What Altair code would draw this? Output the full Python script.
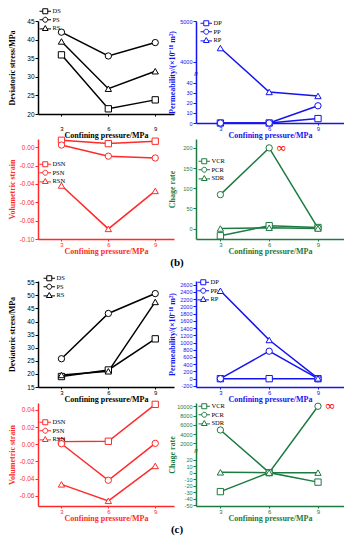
import altair as alt
import pandas as pd

PRESSURE = [3, 6, 9]

# ---- group (b) ----
B_DS = [35.9, 21.4, 23.8]
B_PS = [42.0, 35.6, 39.2]
B_RS = [39.5, 26.8, 31.5]
B_DP = [0.0, 0.0, 4.4]
B_PP = [0.0, 0.0, 17.2]
B_RP = [4340.0, 31.0, 27.0]
B_DSN = [0.0076, 0.0040, 0.0066]
B_PSN = [0.0024, -0.0097, -0.0117]
B_RSN = [-0.0417, -0.0890, -0.0476]
B_VCR = [-18.0, 7.0, 2.5]
B_PCR = [84.0, 200.0, 1.0]
B_SDR = [0.0, 2.0, 0.0]

# ---- group (c) ----
C_DS = [19.0, 21.5, 33.4]
C_PS = [25.8, 43.1, 50.7]
C_RS = [19.6, 21.0, 47.5]
C_DP = [0.0, 0.0, 0.0]
C_PP = [0.0, 760.0, 0.0]
C_RP = [2430.0, 1070.0, 8.0]
C_DSN = [0.0030, 0.0034, 0.0464]
C_PSN = [0.0005, -0.0420, 0.0010]
C_RSN = [-0.0468, -0.0660, -0.0253]
C_VCR = [-29.0, 0.0, -14.5]
C_PCR = [4900.0, 0.0, 10000.0]
C_SDR = [0.5, 0.0, 0.0]

STRESS_NAMES = ["DS", "PS", "RS"]
PERM_NAMES = ["DP", "PP", "RP"]
STRAIN_NAMES = ["DSN", "PSN", "RSN"]
RATE_NAMES = ["VCR", "PCR", "SDR"]

SERIF = "Liberation Serif"
SANS = "Liberation Sans"
BLACK, BLUE, RED, GREEN = "#000000", "#1414f0", "#ff2a2a", "#1d7a40"

MARKERS = ["square", "circle", "triangle-up"]
LEG_SHAPES = [
    "M-2.3,0H-1M1,0H2.3M-1,-1H1V1H-1Z",
    "M-2.3,0H-1M1,0H2.3M-1,0A1,1,0,1,1,1,0A1,1,0,1,1,-1,0Z",
    "M-2.3,0.25H-0.8M0.8,0.25H2.3M0,-1.1L1.15,0.9H-1.15Z",
]

XL = [1.5, 10.2]
XR = [1.5, 10.6]
WL, WR = 136, 148
PERM_TITLE = "Permeability/(\u00d710\u207b\u00b9\u2078 m\u00b2)"
MINUS = "\u2212"


def fmt_expr(f):
    return "replace(format(datum.value,'%s'),'%s','-')" % (f, MINUS)


def panel(names, series, color, ytitle, ydom, yticks, yfmt, xdom, w, h, lx, ly,
          ext=21, ylfs=6.5, xlpad=0, inf=None, brk=None):
    rows = [{"p": p, "v": v, "s": n}
            for n, vals in zip(names, series) for p, v in zip(PRESSURE, vals)]
    df = pd.DataFrame(rows)
    xs = alt.Scale(domain=xdom, nice=False, zero=False)
    yfield = "v"
    calc = None
    label_expr = fmt_expr(yfmt)
    tick_vals = yticks
    if brk is not None:
        # broken axis: lower [d0, lo] -> [0, f1], upper [hi0, hi1] -> [f2, 1]
        d0, lo, hi0, hi1, f1, f2 = brk
        calc = ("datum.v <= %g ? (datum.v - (%g)) / (%g) * %g : %g + (datum.v - %g) / %g * %g"
                % (lo, d0, lo - d0, f1, f2, hi0, hi1 - hi0, 1 - f2))

        def fwd(v):
            return (v - d0) / (lo - d0) * f1 if v <= lo else f2 + (v - hi0) / (hi1 - hi0) * (1 - f2)
        tick_vals = [fwd(v) for v in yticks]
        mid = (f1 + f2) / 2
        label_expr = ("replace(format(round(datum.value <= %g ? %g + datum.value / %g * %g : "
                      "%g + (datum.value - %g) / %g * %g), 'd'), '%s', '-')"
                      % (mid, d0, f1, lo - d0, hi0, f2, 1 - f2, hi1 - hi0, MINUS))
        yfield = "t"
        ydom = [0, 1]
    ys = alt.Scale(domain=ydom, nice=False, zero=False)
    xax = alt.Axis(title="Confining pressure/MPa", values=PRESSURE, format="d",
                   labelFont=SANS, labelFontSize=6, labelColor=color,
                   titleColor=color, titleFont=SERIF, titleFontSize=8,
                   titleFontWeight="bold", domainColor=color, domainWidth=1.5,
                   tickColor=color, tickSize=2, grid=False, tickCount=10,
                   labelPadding=xlpad, titlePadding=0, labelFlush=False)
    yax = alt.Axis(title=ytitle, values=tick_vals, labelExpr=label_expr,
                   labelFont=SANS, labelFontSize=ylfs, labelColor=color,
                   titleColor=color, titleFont=SERIF, titleFontSize=8,
                   titleFontWeight="bold", domainColor=color, domainWidth=1.5,
                   tickColor=color, tickSize=3, grid=False, labelPadding=1,
                   titlePadding=1, minExtent=ext, maxExtent=ext, tickCount=40,
                   labelFlush=False, labelOverlap=False)
    X = alt.X("p:Q", scale=xs, axis=xax)
    Y = alt.Y(yfield + ":Q", scale=ys, axis=yax)
    base = alt.Chart(df)
    if calc:
        base = base.transform_calculate(t=calc)
    line = base.mark_line(color=color, strokeWidth=1.5).encode(x=X, y=Y, detail="s:N")
    pts = base.mark_point(filled=True, fill="white", stroke=color, strokeWidth=1,
                          size=40, opacity=1).encode(
        x=X, y=Y,
        shape=alt.Shape("s:N", scale=alt.Scale(domain=names, range=MARKERS), legend=None))
    leg = base.mark_point(filled=False, stroke=color, strokeWidth=1,
                          size=25, opacity=1, clip=True).encode(
        x=alt.value(-200), y=alt.value(-200),
        shape=alt.Shape("s:N", scale=alt.Scale(domain=names, range=LEG_SHAPES),
                        legend=alt.Legend(orient="none", legendX=lx, legendY=ly, title=None,
                                          direction="vertical", symbolSize=25,
                                          symbolStrokeWidth=1, symbolStrokeColor=color,
                                          symbolOpacity=1, labelFont=SERIF,
                                          labelFontSize=6.5, labelColor="black",
                                          labelOffset=4, rowPadding=-1.5, padding=0)))
    layers = [line, pts, leg]
    if inf is not None:
        idf = pd.DataFrame({"p": [inf[0]], "v": [inf[1]], "lab": ["\u221e"]})
        ic = alt.Chart(idf)
        if calc:
            ic = ic.transform_calculate(t=calc)
        layers.append(ic.mark_text(color="#ff0000", font="DejaVu Sans",
                                   fontSize=13, dx=12, baseline="middle").encode(
            x=alt.X("p:Q", scale=xs), y=alt.Y(yfield + ":Q", scale=ys), text="lab:N"))
    if brk is not None:
        bdf = pd.DataFrame({"p": [xdom[0]], "t": [(brk[4] + brk[5]) / 2], "lab": ["//"]})
        layers.append(alt.Chart(bdf).mark_text(color=color, font=SANS, fontSize=6,
                                               fontWeight="bold", baseline="middle").encode(
            x=alt.X("p:Q", scale=xs), y=alt.Y("t:Q", scale=ys), text="lab:N"))
    ch = alt.layer(*layers).resolve_scale(shape="independent")
    return ch.properties(width=w, height=h)


def spacer(w, label, ypos):
    c = alt.Chart(pd.DataFrame({"t": [label]})).mark_text(
        font=SERIF, fontSize=11, fontWeight="bold", align="center",
        baseline="middle", color="black").encode(
        text="t:N", x=alt.value(-19), y=alt.value(ypos))
    return c.properties(width=w, height=14)


b_tl = panel(STRESS_NAMES, [B_DS, B_PS, B_RS], BLACK, "Deviatoric stress/MPa",
             [20, 45], [20, 25, 30, 35, 40, 45], "d", XL, WL, 93, 4, -13, xlpad=9)
b_tr = panel(PERM_NAMES, [B_DP, B_PP, B_RP], BLUE, PERM_TITLE,
             None, [0, 10, 20, 30, 40, 4000, 5000], "d", XR, WR, 102, 7, -1,
             ext=19, ylfs=5.5, brk=(0, 45, 3800, 5000, 0.442, 0.518))
b_bl = panel(STRAIN_NAMES, [B_DSN, B_PSN, B_RSN], RED, "Volumetric strain",
             [-0.10, 0.009], [-0.10, -0.08, -0.06, -0.04, -0.02, 0.0], ".2f", XL, WL, 100, 4, 22)
b_br = panel(RATE_NAMES, [B_VCR, B_PCR, B_SDR], GREEN, "Chage rate",
             [-26, 222], [0, 50, 100, 150, 200], "d", XR, WR, 100, 5, 19,
             ext=19, ylfs=5.5, inf=(6, 200))

c_tl = panel(STRESS_NAMES, [C_DS, C_PS, C_RS], BLACK, "Deviatoric stress/MPa",
             [15, 55.5], [15, 20, 25, 30, 35, 40, 45, 50, 55], "d", XL, WL, 106, 8, -6)
c_tr = panel(PERM_NAMES, [C_DP, C_PP, C_RP], BLUE, PERM_TITLE,
             [-230, 2700], list(range(-200, 2601, 200)), "d", XR, WR, 106, 4, -2,
             ext=19, ylfs=5.5)
c_bl = panel(STRAIN_NAMES, [C_DSN, C_PSN, C_RSN], RED, "Volumetric strain",
             [-0.072, 0.048], [-0.06, -0.04, -0.02, 0.0, 0.02, 0.04], ".2f", XL, WL, 103, 4, 16)
c_br = panel(RATE_NAMES, [C_VCR, C_PCR, C_SDR], GREEN, "Chage rate",
             None, [-50, -40, -30, -20, -10, 0, 10, 20, 2000, 4000, 6000, 8000, 10000], "d",
             XR, WR, 103, 5, 0, ext=19, ylfs=5.5, inf=(9, 10000),
             brk=(-51, 26, 1200, 10700, 0.489, 0.571))

group_b = alt.concat(
    b_tl, b_tr, b_bl, b_br,
    spacer(WL, "", 8), spacer(WR, "(b)", 8),
    columns=2, spacing={"row": 16, "column": 22}, bounds="flush", align="each",
).resolve_scale(shape="independent")

group_c = alt.concat(
    c_tl, c_tr, c_bl, c_br,
    spacer(WL, "", 8), spacer(WR, "(c)", 8),
    columns=2, spacing={"row": 16, "column": 22}, bounds="flush", align="each",
).resolve_scale(shape="independent")

chart = alt.vconcat(group_b, group_c, spacing=6).resolve_scale(
    shape="independent").properties(padding=0).configure_view(stroke=None)

chart.save("out.html", embed_options={"renderer": "svg", "actions": False})
